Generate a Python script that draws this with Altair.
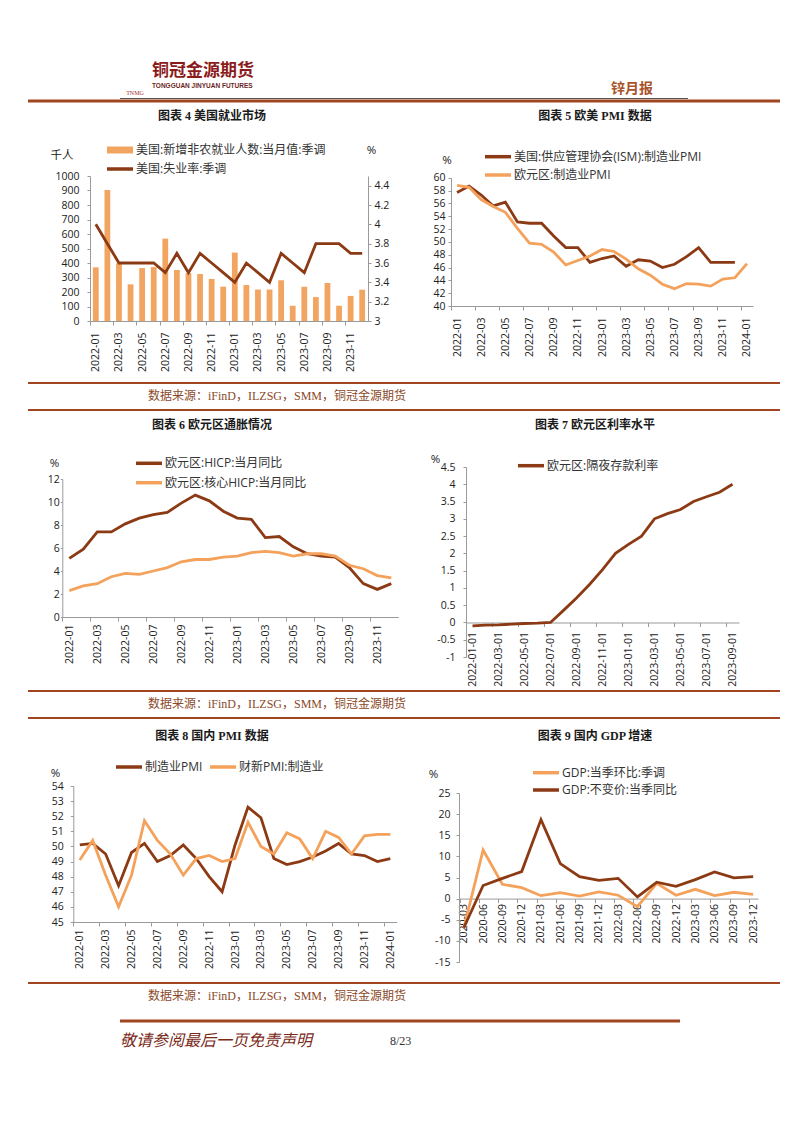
import altair as alt
import pandas as pd

# ---------------- categories ----------------
months_2y = [f"{y}-{m:02d}" for y in (2022, 2023) for m in range(1, 13)]
months_25 = months_2y + ["2024-01"]
rate_days = [m + "-01" for m in months_2y[:21]]
quarters = ["2020-03", "2020-06", "2020-09", "2020-12", "2021-03", "2021-06",
            "2021-09", "2021-12", "2022-03", "2022-06", "2022-09", "2022-12",
            "2023-03", "2023-06", "2023-09", "2023-12"]

# ---------------- page texts ----------------
logo_cn = "铜冠金源期货"
logo_en = "TONGGUAN JINYUAN FUTURES"
logo_abbr = "TNMG"
report_name = "锌月报"
titles = ["图表 4 美国就业市场", "图表 5 欧美 PMI 数据", "图表 6 欧元区通胀情况",
          "图表 7 欧元区利率水平", "图表 8 国内 PMI 数据", "图表 9 国内 GDP 增速"]
source_note = "数据来源：iFinD，ILZSG，SMM，铜冠金源期货"
footer_note = "敬请参阅最后一页免责声明"
page_no = "8/23"

# ---------------- series ----------------
s_nfp = "美国:新增非农就业人数:当月值:季调"
s_unemp = "美国:失业率:季调"
nfp = [370, 904, 398, 253, 365, 372, 568, 352, 330, 324, 290, 237,
       472, 248, 217, 217, 281, 105, 236, 165, 262, 105, 173, 216]
unemp = [4.0, 3.8, 3.6, 3.6, 3.6, 3.6, 3.5, 3.7, 3.5, 3.7, 3.6, 3.5,
         3.4, 3.6, 3.5, 3.4, 3.7, 3.6, 3.5, 3.8, 3.8, 3.8, 3.7, 3.7]

s_ism = "美国:供应管理协会(ISM):制造业PMI"
s_ezpmi = "欧元区:制造业PMI"
ism = [57.7, 58.7, 57.3, 55.6, 56.2, 53.1, 52.9, 52.9, 50.9, 49.1, 49.1, 46.8,
       47.4, 47.8, 46.2, 47.2, 47.0, 46.0, 46.5, 47.7, 49.1, 46.8, 46.8, 46.8]
ez_pmi = [58.8, 58.5, 56.6, 55.5, 54.6, 52.1, 49.8, 49.6, 48.4, 46.4, 47.1, 47.8,
          48.8, 48.5, 47.3, 45.8, 44.8, 43.4, 42.7, 43.5, 43.4, 43.1, 44.2, 44.4, 46.6]

s_hicp = "欧元区:HICP:当月同比"
s_core = "欧元区:核心HICP:当月同比"
hicp = [5.1, 5.9, 7.4, 7.4, 8.1, 8.6, 8.9, 9.1, 9.9, 10.6, 10.1, 9.2,
        8.6, 8.5, 6.9, 7.0, 6.1, 5.5, 5.3, 5.2, 4.3, 2.9, 2.4, 2.9]
core = [2.3, 2.7, 2.9, 3.5, 3.8, 3.7, 4.0, 4.3, 4.8, 5.0, 5.0, 5.2,
        5.3, 5.6, 5.7, 5.6, 5.3, 5.5, 5.5, 5.3, 4.5, 4.2, 3.6, 3.4]

s_rate = "欧元区:隔夜存款利率"
rate = [-0.1, -0.08, -0.07, -0.05, -0.03, -0.02, 0.0, 0.35, 0.71, 1.1, 1.53,
        2.0, 2.26, 2.5, 3.0, 3.15, 3.27, 3.5, 3.64, 3.77, 4.0]

s_nbs = "制造业PMI"
s_caixin = "财新PMI:制造业"
nbs = [50.1, 50.2, 49.5, 47.4, 49.6, 50.2, 49.0, 49.4, 50.1, 49.2, 48.0, 47.0,
       50.1, 52.6, 51.9, 49.2, 48.8, 49.0, 49.3, 49.7, 50.2, 49.5, 49.4, 49.0, 49.2]
caixin = [49.1, 50.4, 48.1, 46.0, 48.1, 51.7, 50.4, 49.5, 48.1, 49.2, 49.4, 49.0,
          49.2, 51.6, 50.0, 49.5, 50.9, 50.5, 49.2, 51.0, 50.6, 49.5, 50.7, 50.8, 50.8]

s_qoq = "GDP:当季环比:季调"
s_yoy = "GDP:不变价:当季同比"
gdp_qoq = [-7.0, 11.5, 3.4, 2.6, 0.7, 1.4, 0.6, 1.6, 0.8, -1.9, 3.6, 0.8, 2.2, 0.7, 1.5, 1.0]
gdp_yoy = [-6.9, 3.1, 4.8, 6.4, 18.7, 8.3, 5.2, 4.3, 4.8, 0.4, 3.9, 2.9, 4.5, 6.3, 4.9, 5.2]

# ---------------- styles ----------------
DARK = "#8C3A14"
LIGHT = "#F4A25B"
BAR = "#F2A561"
RULE = "#A0451F"
AX = "#9A9A9A"
TXT = "#222222"
NUM_FONT = "Open Sans"
CJK = "Noto Sans CJK SC"
LEG_FONT = "Open Sans, Noto Sans CJK SC"
SERIF = "Liberation Serif, Noto Sans CJK SC"
PAGE_W = 786
LW = 2.8


def one(text=""):
    return pd.DataFrame({"t": [text]})


def rule(x1, x2, y, width, color=RULE):
    return alt.Chart(one()).mark_rule(color=color, strokeWidth=width, strokeCap="butt").encode(
        x=alt.value(x1), x2=alt.value(x2), y=alt.value(y))


def text(t, x, y, size, color=TXT, font=SERIF, align="left", weight="normal", style="normal"):
    return alt.Chart(one(t)).mark_text(
        align=align, baseline="middle", fontSize=size, color=color, font=font,
        fontWeight=weight, fontStyle=style).encode(x=alt.value(x), y=alt.value(y), text="t:N")


def legend(items):
    layers = []
    for label, color, kind, x, y in items:
        sw = 7 if kind == "bar" else 3.5
        layers.append(alt.Chart(one(label)).mark_rule(color=color, strokeWidth=sw, strokeCap="butt").encode(
            x=alt.value(x), x2=alt.value(x + 26), y=alt.value(y)))
        layers.append(alt.Chart(one(label)).mark_text(
            align="left", baseline="middle", font=LEG_FONT, fontSize=12, color="#333333").encode(
            x=alt.value(x + 29), y=alt.value(y), text="t:N"))
    return layers


def x_axis(values, half, pad, offset=0):
    return alt.Axis(orient="bottom", values=values, title=None, labelAngle=270,
                    labelFont=NUM_FONT, labelFontSize=10.5, labelColor=TXT, labelPadding=pad,
                    labelOverlap=False, tickSize=4, tickOffset=-half, labelOffset=half,
                    offset=offset, domainColor=AX, tickColor=AX)


def y_axis(values, pad, title, tx, ty, offset, orient="left", tick=3, tfont=NUM_FONT):
    return alt.Axis(orient=orient, values=values, labelExpr="'' + datum.value", offset=offset,
                    labelFont=NUM_FONT, labelFontSize=10.5, labelColor=TXT, labelPadding=pad,
                    labelOverlap=False, tickSize=tick, domainColor=AX, tickColor=AX,
                    title=title, titleAngle=0, titleX=tx, titleY=ty, titleAlign="center",
                    titleBaseline="middle", titleFont=tfont, titleFontSize=11.5,
                    titleFontWeight="normal", titleColor=TXT)


# ================= row 1 : charts 4 and 5 (row height 145) =================
df4 = pd.DataFrame({"month": months_2y, "nfp": nfp, "unemp": unemp})
x4 = alt.X("month:O", sort=None,
           scale=alt.Scale(paddingInner=0.5, paddingOuter=0.25, range=[82, 360]),
           axis=x_axis(months_2y[::2], 5.79, 7))
bars4 = alt.Chart(df4).mark_bar(color=BAR).encode(
    x=x4,
    y=alt.Y("nfp:Q", scale=alt.Scale(domain=[0, 1000], nice=False, range=[145, 0]),
            axis=y_axis([0, 100, 200, 300, 400, 500, 600, 700, 800, 900, 1000], 8, "千人",
                        -28.5, -21, -82, tfont=CJK)))
line4 = alt.Chart(df4).mark_line(color=DARK, strokeWidth=LW).encode(
    x=x4,
    y=alt.Y("unemp:Q", scale=alt.Scale(domain=[3, 4.5], nice=False, zero=False, range=[145, 0]),
            axis=y_axis([3, 3.2, 3.4, 3.6, 3.8, 4, 4.2, 4.4], 3, "%", 3, -26, -426,
                        orient="right")))
chart4 = alt.layer(bars4, line4).resolve_scale(y="independent")

x5 = alt.X("month:O", sort=None, scale=alt.Scale(type="point", padding=0.5, range=[443, 745]),
           axis=x_axis(months_25[::2], 6.04, 7, offset=-15))
y5 = alt.Y("v:Q", scale=alt.Scale(domain=[40, 60], nice=False, zero=False, range=[130, 1.7]),
           axis=y_axis(list(range(40, 61, 2)), 3, "%", -4.5, -15.3, -443))
chart5 = alt.layer(
    alt.Chart(pd.DataFrame({"month": months_2y, "v": ism})).mark_line(
        color=DARK, strokeWidth=LW).encode(x=x5, y=y5),
    alt.Chart(pd.DataFrame({"month": months_25, "v": ez_pmi})).mark_line(
        color=LIGHT, strokeWidth=LW).encode(x=x5, y=y5),
)

row1 = alt.layer(
    chart4, chart5,
    *legend([(s_nfp, BAR, "bar", 99, -26), (s_unemp, DARK, "line", 99, -7),
             (s_ism, DARK, "line", 477, -19.3), (s_ezpmi, LIGHT, "line", 477, -1)])
).resolve_scale(x="independent", y="independent").properties(width=PAGE_W, height=145)

# ================= row 2 : charts 6 and 7 (row height 190) =================
x6 = alt.X("month:O", sort=None, scale=alt.Scale(type="point", padding=0.5, range=[54.3, 390.3]),
           axis=x_axis(months_2y[::2], 7, 3, offset=-40))
y6 = alt.Y("v:Q", scale=alt.Scale(domain=[0, 12], nice=False, range=[150, 12]),
           axis=y_axis([0, 2, 4, 6, 8, 10, 12], 1, "%", -8.3, -3.7, -54.3, tick=2))
chart6 = alt.layer(
    alt.Chart(pd.DataFrame({"month": months_2y, "v": hicp})).mark_line(
        color=DARK, strokeWidth=LW).encode(x=x6, y=y6),
    alt.Chart(pd.DataFrame({"month": months_2y, "v": core})).mark_line(
        color=LIGHT, strokeWidth=LW).encode(x=x6, y=y6),
)

x7 = alt.X("day:O", sort=None, scale=alt.Scale(type="point", padding=0.5, range=[458, 731]),
           axis=x_axis(rate_days[::2], 6.5, 5, offset=-34.5))
y7 = alt.Y("v:Q", scale=alt.Scale(domain=[-1, 4.5], nice=False, zero=False, range=[190, 0]),
           axis=y_axis([-1, -0.5, 0, 0.5, 1, 1.5, 2, 2.5, 3, 3.5, 4, 4.5], 8, "%", -31, -8, -458))
chart7 = alt.layer(
    alt.Chart(pd.DataFrame({"day": rate_days, "v": rate})).mark_line(
        color=DARK, strokeWidth=LW).encode(x=x7, y=y7),
)

row2 = alt.layer(
    chart6, chart7,
    *legend([(s_hicp, DARK, "line", 128, -3.7), (s_core, LIGHT, "line", 128, 15.7),
             (s_rate, DARK, "line", 510, -1.3)])
).resolve_scale(x="independent", y="independent").properties(width=PAGE_W, height=190)

# ================= row 3 : charts 8 and 9 (row height 176) =================
x8 = alt.X("month:O", sort=None, scale=alt.Scale(type="point", padding=0.5, range=[65.3, 388.8]),
           axis=x_axis(months_25[::2], 6.47, 3, offset=-40))
y8 = alt.Y("v:Q", scale=alt.Scale(domain=[45, 54], nice=False, zero=False, range=[136, 0]),
           axis=y_axis(list(range(45, 55)), 7, "%", -18.3, -13, -65.3))
chart8 = alt.layer(
    alt.Chart(pd.DataFrame({"month": months_25, "v": nbs})).mark_line(
        color=DARK, strokeWidth=LW).encode(x=x8, y=y8),
    alt.Chart(pd.DataFrame({"month": months_25, "v": caixin})).mark_line(
        color=LIGHT, strokeWidth=LW).encode(x=x8, y=y8),
)

x9 = alt.X("q:O", sort=None, scale=alt.Scale(type="point", padding=0.25, range=[451, 750]),
           axis=x_axis(quarters, 4.2, 1, offset=-63.4))
y9 = alt.Y("v:Q", scale=alt.Scale(domain=[-15, 25], nice=False, zero=False, range=[176, 7]),
           axis=y_axis([-15, -10, -5, 0, 5, 10, 15, 20, 25], 6, "%", -26, -12, -451))
chart9 = alt.layer(
    alt.Chart(pd.DataFrame({"q": quarters, "v": gdp_qoq})).mark_line(
        color=LIGHT, strokeWidth=LW).encode(x=x9, y=y9),
    alt.Chart(pd.DataFrame({"q": quarters, "v": gdp_yoy})).mark_line(
        color=DARK, strokeWidth=LW).encode(x=x9, y=y9),
)

row3 = alt.layer(
    chart8, chart9,
    *legend([(s_nbs, DARK, "line", 108, -19), (s_caixin, LIGHT, "line", 202, -19),
             (s_qoq, LIGHT, "line", 525, -13.3), (s_yoy, DARK, "line", 525, 4)])
).resolve_scale(x="independent", y="independent").properties(width=PAGE_W, height=176)

# ---------------- page strips ----------------
TITLE_KW = dict(size=12, color="#1a1a1a", font=SERIF, align="center", weight="bold")

header = alt.layer(
    text(logo_cn, 144, 63, 17, color="#8B1A1A", font=CJK, weight="bold"),
    text(logo_en, 144, 78, 6.5, color="#6B1F1F", font="Liberation Sans", weight="bold"),
    text(logo_abbr, 127, 85, 6, color="#A03030", font="Liberation Serif", align="center"),
    text(report_name, 624, 81, 14, color="#A8532B", font=CJK, align="center", weight="bold"),
    rule(20, 772, 93, 3),
    rule(112, 680, 90.5, 1.2, color="#555555"),
    text(titles[0], 204, 108, **TITLE_KW),
    text(titles[1], 587, 108, **TITLE_KW),
).properties(width=PAGE_W, height=168)

strip2 = alt.layer(
    rule(20, 772, 62, 2),
    text(source_note, 140, 75, 12, color="#8B4A2A"),
    rule(20, 772, 89, 2),
    text(titles[2], 204, 104, **TITLE_KW),
    text(titles[3], 587, 104, **TITLE_KW),
).properties(width=PAGE_W, height=146)

strip4 = alt.layer(
    rule(20, 772, 34, 2),
    text(source_note, 140, 47, 12, color="#8B4A2A"),
    rule(20, 772, 61, 2),
    text(titles[4], 204, 79, **TITLE_KW),
    text(titles[5], 587, 79, **TITLE_KW),
).properties(width=PAGE_W, height=129)

footer = alt.layer(
    rule(20, 772, 21, 2),
    text(source_note, 140, 34, 12, color="#8B4A2A"),
    rule(112, 672, 59, 3),
    text(footer_note, 112, 79, 16, color="#7B2A1A", font=CJK, style="italic"),
    text(page_no, 382, 79, 12, color="#333333", font="Liberation Serif"),
).properties(width=PAGE_W, height=100)

page = alt.vconcat(header, row1, strip2, row2, strip4, row3, footer,
                   spacing=0, bounds="flush").properties(
    padding=0, background="white"
).configure_view(strokeOpacity=0).configure_axis(grid=False)

page.save("out.html", embed_options={"renderer": "svg", "actions": False})
